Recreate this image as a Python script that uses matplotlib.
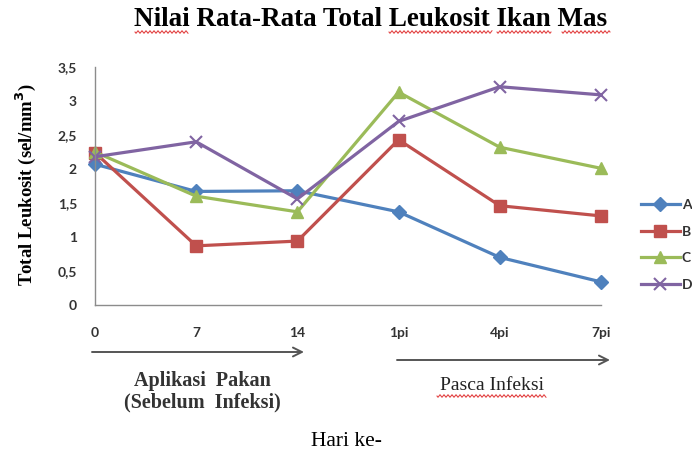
import matplotlib
matplotlib.use("Agg")
import matplotlib.pyplot as plt
import numpy as np

# ---- data ----
categories = ["0", "7", "14", "1pi", "4pi", "7pi"]
series_names = ["A", "B", "C", "D"]
A = [2.07, 1.67, 1.68, 1.37, 0.70, 0.34]
B = [2.24, 0.87, 0.94, 2.43, 1.46, 1.31]
C = [2.25, 1.60, 1.37, 3.13, 2.32, 2.01]
D = [2.18, 2.40, 1.56, 2.70, 3.21, 3.09]
yticks = [0, 0.5, 1, 1.5, 2, 2.5, 3, 3.5]
ytick_labels = ["0", "0,5", "1", "1,5", "2", "2,5", "3", "3,5"]

colors = ["#4F81BD", "#C0504D", "#9BBB59", "#8064A2"]
markers = ["D", "s", "^", "x"]
msizes = [7, 8, 8, 9]

W, H = 692, 454
fig = plt.figure(figsize=(W / 100, H / 100), dpi=100)

def fx(px):
    return px / W

def fy(py):
    return 1 - py / H

ax = fig.add_axes([fx(95), fy(305), fx(601) - fx(95), fy(67) - fy(305)])
x = np.arange(len(categories))
for name, vals, c, m, ms in zip(series_names, [A, B, C, D], colors, markers, msizes):
    kw = dict(markeredgewidth=1.5) if m == "x" else dict(markeredgecolor=c)
    ax.plot(x, vals, color=c, lw=2.3, marker=m, markersize=ms, label=name,
            clip_on=False, **kw)

ax.set_xlim(0, len(categories) - 1)
ax.set_ylim(0, 3.5)
ax.set_xticks(x)
ax.set_xticklabels(categories)
ax.set_yticks(yticks)
ax.set_yticklabels(ytick_labels)
for lab in ax.get_xticklabels() + ax.get_yticklabels():
    lab.set_fontfamily("Lato")
    lab.set_fontweight("bold")
    lab.set_fontsize(10)
    lab.set_color("#333333")
ax.tick_params(axis="y", length=0, pad=13)
ax.tick_params(axis="x", length=0, pad=16)
for s in ["top", "right"]:
    ax.spines[s].set_visible(False)
for s in ["left", "bottom"]:
    ax.spines[s].set_color("#8c8c8c")
    ax.spines[s].set_linewidth(1.0)

leg = ax.legend(loc="center left", bbox_to_anchor=(fx(638), fy(245)),
                bbox_transform=fig.transFigure, frameon=False,
                prop=dict(family="Lato", weight="bold", size=10),
                handlelength=2.8, labelspacing=1.05, handletextpad=0.15,
                borderpad=0.2, borderaxespad=0)
for t in leg.get_texts():
    t.set_color("#333333")

# title
fig.text(fx(371), fy(20), "Nilai Rata-Rata Total Leukosit Ikan Mas",
         family="Liberation Serif", weight="bold", size=19.5,
         ha="center", va="center", color="black")

# y label
fig.text(fx(26), fy(185), "Total Leukosit (sel/mm$^{\\mathbf{3}}$)",
         family="Liberation Serif", weight="bold", size=13.5,
         rotation=90, ha="center", va="center", color="black")

# arrows
arrow_kw = dict(arrowstyle="->", color="#555555", lw=1.4,
                mutation_scale=16, shrinkA=0, shrinkB=0)
fig.add_artist(matplotlib.patches.FancyArrowPatch(
    (fx(92), fy(352)), (fx(304), fy(352)), transform=fig.transFigure, **arrow_kw))
fig.add_artist(matplotlib.patches.FancyArrowPatch(
    (fx(397), fy(360)), (fx(610), fy(360)), transform=fig.transFigure, **arrow_kw))

fig.text(fx(202), fy(392), "Aplikasi  Pakan\n(Sebelum  Infeksi)",
         family="Liberation Serif", weight="bold", size=14.5, color="#333333",
         ha="center", va="center", linespacing=1.12)
fig.text(fx(492), fy(386), "Pasca Infeksi",
         family="Liberation Serif", size=14, color="#222222",
         ha="center", va="center")
fig.text(fx(346), fy(442), "Hari ke-",
         family="Liberation Serif", size=15.5, color="black",
         ha="center", va="center")

# spell-check squiggles
def squiggle(x0, x1, y):
    xs = np.linspace(x0, x1, int((x1 - x0) * 2))
    ys = y + 1.2 * np.sin((xs - x0) * np.pi / 2)
    fig.add_artist(matplotlib.lines.Line2D(fx(xs), fy(ys), color="#e03030",
                                           lw=0.7, transform=fig.transFigure))

for a, b in [(135, 188), (389, 492), (497, 551), (562, 610)]:
    squiggle(a, b, 32)
squiggle(437, 546, 396)

fig.savefig("out.png", dpi=100)
